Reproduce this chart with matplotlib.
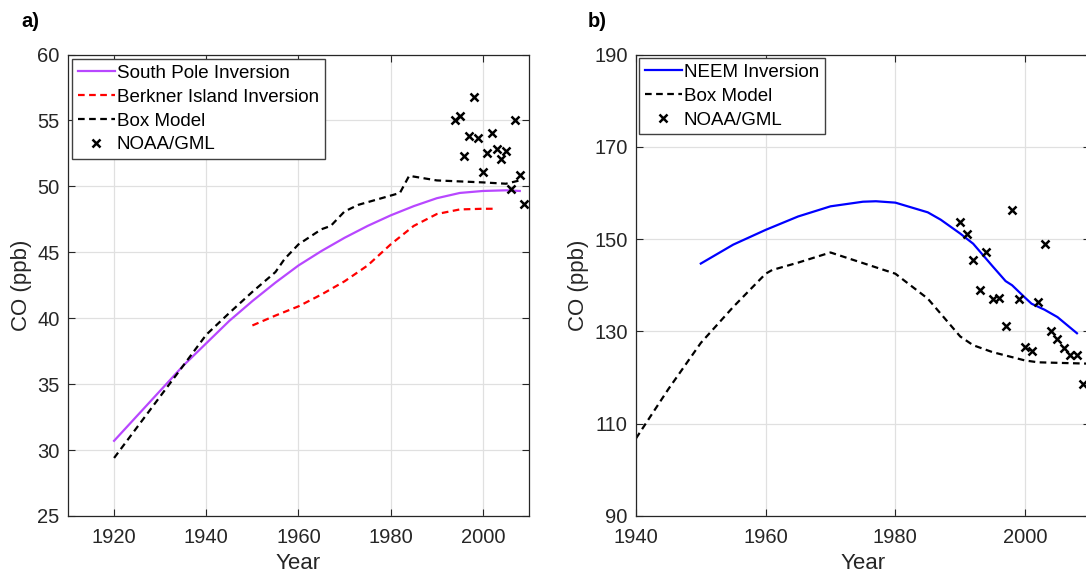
import numpy as np
import matplotlib
matplotlib.use('Agg')
import matplotlib.pyplot as plt

plt.rcParams['font.family'] = ['Liberation Sans', 'DejaVu Sans']

# -------------------------------------------------
# Panel a data (Antarctica)
# -------------------------------------------------
sp_year = [1920, 1925, 1930, 1935, 1940, 1945, 1950, 1955, 1960, 1965,
           1970, 1975, 1980, 1985, 1990, 1995, 2000, 2005, 2008]
sp_co = [30.7, 32.6, 34.5, 36.4, 38.1, 39.8, 41.3, 42.7, 44.0, 45.1,
         46.1, 47.0, 47.8, 48.5, 49.1, 49.5, 49.65, 49.7, 49.65]

bi_year = [1950, 1955, 1960, 1965, 1970, 1975, 1980, 1985, 1990, 1995, 2000, 2003]
bi_co = [39.45, 40.2, 40.9, 41.8, 42.8, 44.0, 45.6, 47.0, 47.9, 48.25, 48.3, 48.3]

box_a_year = [1920, 1935, 1940, 1945, 1950, 1955, 1957, 1960, 1965, 1967,
              1970, 1973, 1976, 1980, 1982, 1984, 1990, 2000, 2005, 2008]
box_a_co = [29.4, 36.4, 38.75, 40.4, 42.0, 43.5, 44.5, 45.6, 46.75, 47.0,
            48.1, 48.6, 48.9, 49.3, 49.5, 50.8, 50.45, 50.3, 50.2, 50.45]

noaa_a_year = [1994, 1995, 1996, 1997, 1998, 1999, 2000, 2001, 2002, 2003,
               2004, 2005, 2006, 2007, 2008, 2009]
noaa_a_co = [55.0, 55.3, 52.3, 53.8, 56.8, 53.7, 51.1, 52.55, 54.05, 52.85,
             52.05, 52.65, 49.8, 55.0, 50.85, 48.65]

# -------------------------------------------------
# Panel b data (Greenland)
# -------------------------------------------------
neem_year = [1950, 1955, 1960, 1965, 1970, 1975, 1977, 1980, 1985, 1987,
             1990, 1992, 1995, 1997, 1998, 2000, 2001, 2003, 2005, 2008]
neem_co = [144.7, 148.8, 152.0, 154.9, 157.1, 158.1, 158.2, 157.9, 155.8, 154.2,
           151.2, 149.0, 144.1, 140.9, 140.0, 137.3, 136.0, 134.7, 133.1, 129.6]

box_b_year = [1940, 1945, 1950, 1955, 1960, 1961, 1965, 1970, 1975, 1980,
              1985, 1990, 1992, 1995, 2000, 2002, 2010]
box_b_co = [106.8, 117.5, 127.5, 135.3, 142.5, 143.3, 144.9, 147.1, 144.8, 142.5,
            137.1, 128.9, 127.0, 125.5, 123.7, 123.3, 123.0]

noaa_b_year = [1990, 1991, 1992, 1993, 1994, 1995, 1996, 1997, 1998, 1999,
               2000, 2001, 2002, 2003, 2004, 2005, 2006, 2007, 2008, 2009]
noaa_b_co = [153.7, 151.2, 145.5, 139.0, 147.2, 137.1, 137.3, 131.1, 156.3, 137.1,
             126.6, 125.7, 136.4, 148.9, 130.1, 128.4, 126.3, 124.9, 124.9, 118.6]

# -------------------------------------------------
# Figure
# -------------------------------------------------
fig = plt.figure(figsize=(10.86, 5.78), dpi=100)
ax1 = fig.add_axes([0.0626, 0.1073, 0.4245, 0.7984])
ax2 = fig.add_axes([0.5856, 0.1073, 0.4180, 0.7984])

axcol = '#262626'
purple = '#b847ff'
dash = (0, (3.0, 2.0))


def style(ax):
    ax.grid(True, color='#e0e0e0', linewidth=0.9)
    ax.set_axisbelow(True)
    ax.tick_params(direction='in', top=True, right=True, length=5,
                   labelsize=14.5, colors=axcol)
    ax.tick_params(axis='x', pad=9)
    ax.tick_params(axis='y', pad=6)
    for s in ax.spines.values():
        s.set_color(axcol)
        s.set_linewidth(0.9)
    ax.set_xlabel('Year', fontsize=16, color=axcol, labelpad=4)
    ax.set_ylabel('CO (ppb)', fontsize=16, color=axcol, labelpad=4)


def legend(ax, anchor):
    leg = ax.legend(loc='upper left', bbox_to_anchor=anchor, fontsize=13.5,
                    fancybox=False, framealpha=1, edgecolor='#404040',
                    handlelength=2.0, handletextpad=0.1, borderpad=0.3,
                    labelspacing=0.36, borderaxespad=0.0)
    leg.get_frame().set_linewidth(1.0)


# --- panel a
ax1.plot(sp_year, sp_co, color=purple, lw=1.6, label='South Pole Inversion')
ax1.plot(bi_year, bi_co, color='red', lw=1.6, ls=dash, label='Berkner Island Inversion')
ax1.plot(box_a_year, box_a_co, color='black', lw=1.6, ls=dash, label='Box Model')
ax1.plot(noaa_a_year, noaa_a_co, ls='none', marker='x', ms=5.5, mew=1.8,
         color='black', label='NOAA/GML')
ax1.set_xlim(1910, 2010)
ax1.set_ylim(25, 60)
ax1.set_xticks([1920, 1940, 1960, 1980, 2000])
ax1.set_yticks(np.arange(25, 61, 5))
style(ax1)
legend(ax1, (0.0087, 0.990))

# --- panel b
ax2.plot(neem_year, neem_co, color='blue', lw=1.6, label='NEEM Inversion')
ax2.plot(box_b_year, box_b_co, color='black', lw=1.6, ls=dash, label='Box Model')
ax2.plot(noaa_b_year, noaa_b_co, ls='none', marker='x', ms=5.5, mew=1.8,
         color='black', label='NOAA/GML')
ax2.set_xlim(1940, 2010)
ax2.set_ylim(90, 190)
ax2.set_xticks([1940, 1960, 1980, 2000])
ax2.set_yticks(np.arange(90, 191, 20))
style(ax2)
legend(ax2, (0.0066, 0.992))

fig.text(0.020, 0.963, 'a)', fontsize=14.5, fontweight='bold', va='center')
fig.text(0.541, 0.963, 'b)', fontsize=14.5, fontweight='bold', va='center')

fig.savefig('out.png', dpi=100)
